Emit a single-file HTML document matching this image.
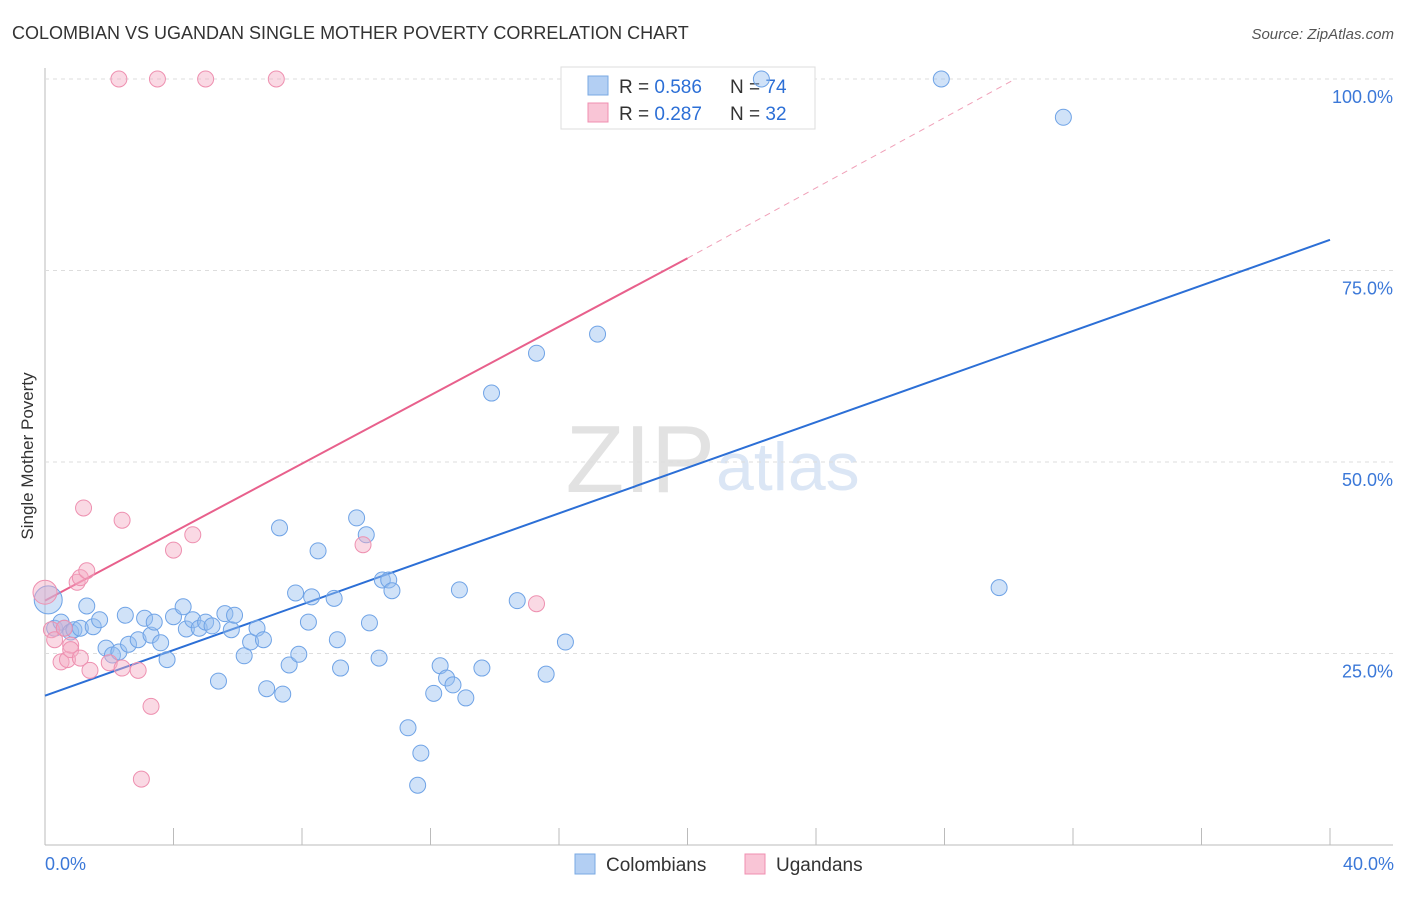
<!DOCTYPE html>
<html><head><meta charset="utf-8">
<style>
body{margin:0;background:#fff;font-family:"Liberation Sans",sans-serif;}
svg text{font-family:"Liberation Sans",sans-serif;}
</style></head>
<body>
<svg id="chart" width="1406" height="892">
<text x="12" y="39" font-size="18" fill="#333">COLOMBIAN VS UGANDAN SINGLE MOTHER POVERTY CORRELATION CHART</text>
<text x="1394" y="39" font-size="15" fill="#555" font-style="italic" text-anchor="end">Source: ZipAtlas.com</text>
<text x="33" y="456" font-size="17" fill="#333" transform="rotate(-90 33 456)" text-anchor="middle">Single Mother Poverty</text>
<text x="715" y="492" font-size="96" fill="#e2e2e2" text-anchor="end" font-family="Liberation Serif">ZIP</text>
<text x="716" y="490" font-size="68" fill="#dbe6f5">atlas</text>
<g id="grid"></g><g id="lines"></g>
<g>
<rect x="561" y="67" width="254" height="62" fill="#fff" stroke="#ddd"/>
<rect x="588" y="76" width="20" height="19" fill="#b3cff3" stroke="#7aa9e3"/>
<text x="619" y="93" font-size="19" fill="#333">R = <tspan fill="#2c6fd6">0.586</tspan></text>
<text x="730" y="93" font-size="19" fill="#333">N = <tspan fill="#2c6fd6">74</tspan></text>
<rect x="588" y="103" width="20" height="19" fill="#f9c5d6" stroke="#f08fb0"/>
<text x="619" y="120" font-size="19" fill="#333">R = <tspan fill="#2c6fd6">0.287</tspan></text>
<text x="730" y="120" font-size="19" fill="#333">N = <tspan fill="#2c6fd6">32</tspan></text>
</g>
<g id="pts"></g>
<g>
<rect x="575" y="854" width="20" height="20" fill="#b3cff3" stroke="#7aa9e3"/>
<text x="606" y="871" font-size="19" fill="#333">Colombians</text>
<rect x="745" y="854" width="20" height="20" fill="#f9c5d6" stroke="#f08fb0"/>
<text x="776" y="871" font-size="19" fill="#333">Ugandans</text>
</g>
<text x="45" y="870" font-size="18" fill="#3b78d8">0.0%</text>
<text x="1394" y="870" font-size="18" fill="#3b78d8" text-anchor="end">40.0%</text>
</svg>
<script>
const yTicks=[100,75,50,25];
const blueX=[0.1,0.3,0.5,0.6,0.8,0.9,1.1,1.3,1.5,1.7,1.9,2.1,2.3,2.5,2.6,2.9,3.1,3.3,3.4,3.6,3.8,4.0,4.3,4.4,4.6,4.8,5.0,5.2,5.4,5.6,5.8,5.9,6.2,6.4,6.6,6.8,6.9,7.3,7.4,7.6,7.8,7.9,8.2,8.3,8.5,9.0,9.1,9.2,9.7,10.0,10.1,10.4,10.5,10.7,10.8,11.3,11.6,11.7,12.1,12.3,12.5,12.7,12.9,13.1,13.6,13.9,14.7,15.3,15.6,16.2,17.2,22.3,27.9,29.7,31.7];
const blueY=[32.0,28.3,29.1,28.3,27.8,28.1,28.3,31.2,28.5,29.4,25.7,24.8,25.2,30.0,26.2,26.8,29.6,27.4,29.1,26.4,24.2,29.8,31.1,28.2,29.4,28.3,29.1,28.6,21.4,30.2,28.1,30.0,24.7,26.5,28.3,26.8,20.4,41.4,19.7,23.5,32.9,24.9,29.1,32.4,38.4,32.2,26.8,23.1,42.7,40.5,29.0,24.4,34.6,34.6,33.2,15.3,7.8,12.0,19.8,23.4,21.8,20.9,33.3,19.2,23.1,59.0,31.9,64.2,22.3,26.5,66.7,100,100,33.6,95.0];
const pinkX=[0,0.2,0.3,0.5,0.6,0.7,0.8,0.8,1.0,1.1,1.1,1.2,1.3,1.4,2.0,2.3,2.4,2.4,2.9,3.0,3.3,3.5,4.0,4.6,5.0,7.2,9.9,15.3];
const pinkY=[33.0,28.1,26.8,23.9,28.3,24.2,26.1,25.5,34.3,34.9,24.4,44.0,35.8,22.8,23.8,100,23.1,42.4,22.8,8.6,18.1,100,38.5,40.5,100,100,39.2,31.5];
const blueLine=[[0,19.5],[40,79]];
const pinkLine=[[0,31.9],[20,76.6]];
const pinkDash=[[20,76.6],[30.2,100]];
const X=v=>45+v*32.125, Y=v=>845-v*7.66;
const NS="http://www.w3.org/2000/svg";
function mk(t,a,p){const e=document.createElementNS(NS,t);for(const k in a)e.setAttribute(k,a[k]);p.appendChild(e);return e;}
const grid=document.getElementById('grid');
mk('line',{x1:45,y1:68,x2:45,y2:845,stroke:'#bbb'},grid);
mk('line',{x1:45,y1:845,x2:1393,y2:845,stroke:'#bbb'},grid);
for(let i=1;i<=10;i++){mk('line',{x1:X(i*4),y1:828,x2:X(i*4),y2:845,stroke:'#bbb'},grid);}
yTicks.forEach(t=>{
 const l=mk('line',{x1:45,y1:Y(t),x2:1393,y2:Y(t),stroke:'#ddd','stroke-dasharray':'4,4'},grid);
 
 
 const tx=mk('text',{x:1393,y:Y(t)+24,'font-size':18,fill:'#3b78d8','text-anchor':'end'},grid);
 tx.textContent=t.toFixed(1)+'%';
 
 
});
const lines=document.getElementById('lines');
let e=mk('line',{x1:X(blueLine[0][0]),y1:Y(blueLine[0][1]),x2:X(blueLine[1][0]),y2:Y(blueLine[1][1]),stroke:'#2c6fd6','stroke-width':2},lines);


e=mk('line',{x1:X(pinkLine[0][0]),y1:Y(pinkLine[0][1]),x2:X(pinkLine[1][0]),y2:Y(pinkLine[1][1]),stroke:'#e8608c','stroke-width':2},lines);


e=mk('line',{x1:X(pinkDash[0][0]),y1:Y(pinkDash[0][1]),x2:X(pinkDash[1][0]),y2:Y(pinkDash[1][1]),stroke:'#f0a0b8','stroke-width':1,'stroke-dasharray':'6,5'},lines);


const pts=document.getElementById('pts');
blueX.forEach((x,i)=>{
 const c=mk('circle',{cx:X(x),cy:Y(blueY[i]),r:i===0?14:8,fill:'rgba(150,190,240,0.45)',stroke:'#6fa3e6','stroke-width':1},pts);
 
 
});
pinkX.forEach((x,i)=>{
 const c=mk('circle',{cx:X(x),cy:Y(pinkY[i]),r:i===0?12:8,fill:'rgba(245,170,195,0.45)',stroke:'#ee90b0','stroke-width':1},pts);
 
 
});
</script>
</body></html>
